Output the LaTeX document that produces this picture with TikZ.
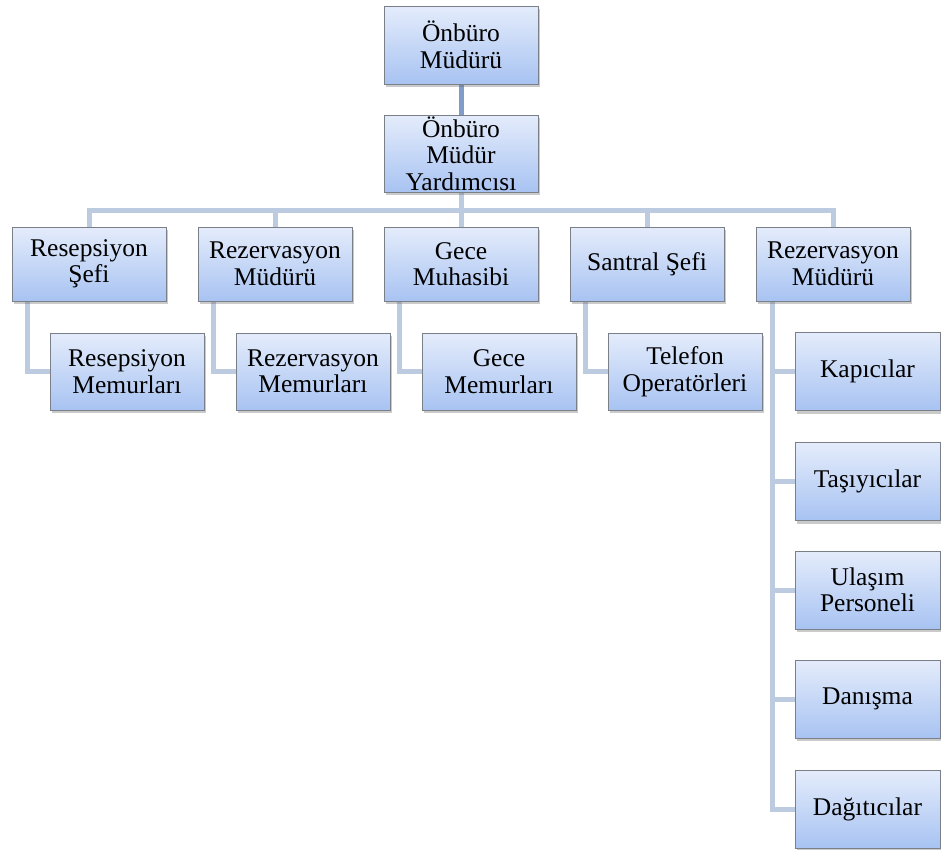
\documentclass[tikz,border=0pt]{standalone}
\usepackage{fontspec}
\setmainfont{Liberation Serif}
\usetikzlibrary{shadows,backgrounds}
\definecolor{boxtop}{HTML}{E4ECFB}
\definecolor{boxbot}{HTML}{A8C3F2}
\definecolor{boxedge}{HTML}{7A7F88}
\definecolor{linklight}{HTML}{BCCBE0}
\definecolor{linkdark}{HTML}{7F9DC8}
\tikzset{
  unit/.style={draw=boxedge, line width=0.9pt, top color=boxtop, bottom color=boxbot,
    minimum width=154pt, minimum height=77pt, inner sep=0pt, align=center,
    font=\fontsize{25.5}{26.5}\selectfont,
    drop shadow={shadow xshift=2pt, shadow yshift=-3pt, opacity=0.35, fill=black!60}},
  narrowunit/.style={unit, minimum width=145pt},
  link/.style={draw=linklight, line width=5pt, line cap=rect},
  mainlink/.style={draw=linkdark, line width=5pt}
}
\begin{document}
\begin{tikzpicture}[x=1pt,y=-1pt]
  \useasboundingbox (0,0) rectangle (941,849);
  % top of the hierarchy
  \node[unit, minimum height=78pt] (mgr) at (461,45) {Önbüro\\Müdürü};
  \node[unit] (asst) at (461,153.5) {Önbüro\\Müdür\\Yardımcısı};
  % department heads
  \node[unit, minimum height=74pt] (h1) at (89,264) {Resepsiyon\\Şefi};
  \node[unit, minimum height=74pt] (h2) at (275,264) {Rezervasyon\\Müdürü};
  \node[unit, minimum height=74pt] (h3) at (461,264) {Gece\\Muhasibi};
  \node[unit, minimum height=74pt] (h4) at (647,264) {Santral Şefi};
  \node[unit, minimum height=74pt] (h5) at (833,264) {Rezervasyon\\Müdürü};
  % staff
  \node[unit] (s1) at (127,371.5) {Resepsiyon\\Memurları};
  \node[unit] (s2) at (313,371.5) {Rezervasyon\\Memurları};
  \node[unit] (s3) at (499,371.5) {Gece\\Memurları};
  \node[unit] (s4) at (685,371.5) {Telefon\\Operatörleri};
  \node[narrowunit, minimum height=78pt] (k1) at (867.5,371.5) {Kapıcılar};
  \node[narrowunit, minimum height=78pt] (k2) at (867.5,481.5) {Taşıyıcılar};
  \node[narrowunit, minimum height=78pt] (k3) at (867.5,590) {Ulaşım\\Personeli};
  \node[narrowunit, minimum height=78pt] (k4) at (867.5,699) {Danışma};
  \node[narrowunit, minimum height=78pt] (k5) at (867.5,809) {Dağıtıcılar};
  \coordinate (bus) at (0,210);
  \begin{scope}[on background layer]
    \draw[mainlink] (mgr.south) -- (asst.north);
    \draw[link] (asst.south) -- (asst.south |- bus);
    \draw[link] (h1.north |- bus) -- (h5.north |- bus);
    \foreach \h in {h1,h2,h3,h4,h5}
      \draw[link] (\h.north) -- (\h.north |- bus);
    \foreach \h/\s in {h1/s1,h2/s2,h3/s3,h4/s4}
      \draw[link] ([xshift=16pt]\h.south west) |- (\s.west);
    \foreach \k in {k1,k2,k3,k4,k5}
      \draw[link] ([xshift=17pt]h5.south west) |- (\k.west);
  \end{scope}
\end{tikzpicture}
\end{document}
